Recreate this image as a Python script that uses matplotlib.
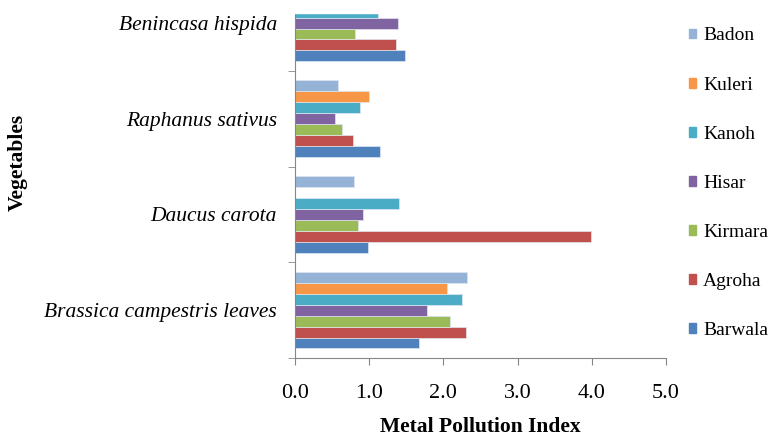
import matplotlib
matplotlib.use('Agg')
import matplotlib.pyplot as plt
import matplotlib.patches as mpatches
import numpy as np

plt.rcParams['font.family'] = ['Liberation Serif', 'DejaVu Serif']

# Daten
vegetables = ['Brassica campestris leaves', 'Daucus carota', 'Raphanus sativus', 'Benincasa hispida']
locations = ['Barwala', 'Agroha', 'Kirmara', 'Hisar', 'Kanoh', 'Kuleri', 'Badon']
barwala = [1.67, 0.99, 1.15, 1.48]
agroha = [2.31, 3.99, 0.78, 1.36]
kirmara = [2.09, 0.85, 0.64, 0.81]
hisar = [1.78, 0.91, 0.54, 1.39]
kanoh = [2.25, 1.40, 0.88, 1.12]
kuleri = [2.05, 0.0, 1.00, 1.05]
badon = [2.32, 0.80, 0.58, 1.20]
colors = ['#4F81BD', '#C0504D', '#9BBB59', '#8064A2', '#4BACC6', '#F79646', '#95B3D7']

series = [barwala, agroha, kirmara, hisar, kanoh, kuleri, badon]

fig = plt.figure(figsize=(7.72, 4.38), dpi=100)
ax = fig.add_axes([0.3821, 0.1826, 0.4806, 0.874])

y = np.arange(len(vegetables))
h = 0.8 / len(locations)
for i, (vals, col) in enumerate(zip(series, colors)):
    ax.barh(y - 0.4 + h / 2 + i * h, vals, height=h, color=col,
            edgecolor='#dfe6ef', linewidth=0.5)

ax.set_xlim(0, 5)
ax.set_ylim(-0.5, 3.5)
ax.set_xticks(np.arange(0, 5.1, 1.0))
ax.set_xticklabels([f'{v:.1f}' for v in np.arange(0, 5.1, 1.0)], fontsize=16)
ax.set_yticks(y)
ax.set_yticklabels(vegetables, fontsize=15.5, style='italic')
ax.set_yticks(np.arange(-0.5, 4, 1.0), minor=True)
ax.tick_params(axis='y', which='major', length=0, pad=13)
ax.tick_params(axis='y', which='minor', length=5, color='#868686', direction='out')
ax.tick_params(axis='x', length=5, color='#868686', direction='out', pad=14)

for s in ['top', 'right']:
    ax.spines[s].set_visible(False)
for s in ['left', 'bottom']:
    ax.spines[s].set_color('#868686')

ax.set_xlabel('Metal Pollution Index', fontsize=15.5, fontweight='bold', labelpad=10)
ax.set_ylabel('Vegetables', fontsize=15.5, fontweight='bold')
ax.yaxis.set_label_coords(-0.72, 0.51)

# der obere Rand des Originals ist abgeschnitten
fig.patches.append(mpatches.Rectangle((0.36, 1 - 13 / 438), 0.52, 13 / 438,
                                      transform=fig.transFigure, color='white', zorder=10))

handles = [mpatches.Patch(color=c, label=l) for l, c in zip(locations, colors)][::-1]
fig.legend(handles=handles, loc='upper left', bbox_to_anchor=(0.882, 0.955),
           frameon=False, prop={'family': 'Liberation Serif', 'size': 14},
           handlelength=0.4, handleheight=0.4,
           handletextpad=0.35, labelspacing=1.65, borderaxespad=0)

fig.savefig('out.png', dpi=100)
